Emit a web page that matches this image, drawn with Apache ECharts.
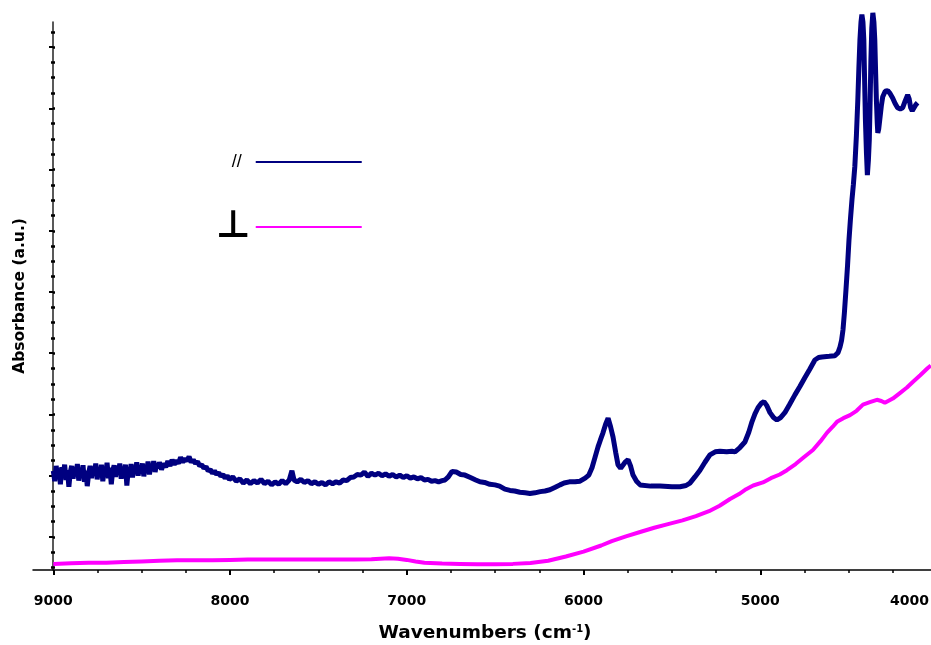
<!DOCTYPE html>
<html>
<head>
<meta charset="utf-8">
<script src="https://cdn.jsdelivr.net/npm/echarts@6/dist/echarts.min.js"></script>
<style>
  html, body { margin: 0; padding: 0; background: #fff; }
  #chart { width: 931px; height: 645px; }
</style>
</head>
<body>
<div id="chart"></div>
<script>
// [wavenumber (cm-1), absorbance (a.u.)]
var parallelData = [
  [9000,1.62],[8992,1.45],[8984,1.70],[8976,1.50],[8968,1.66],[8960,1.40],[8952,1.68],[8944,1.55],
  [8936,1.72],[8928,1.47],[8920,1.63],[8912,1.36],[8904,1.60],[8896,1.70],[8888,1.49],[8880,1.68],
  [8872,1.54],[8864,1.73],[8856,1.46],[8848,1.65],[8840,1.52],[8832,1.71],[8824,1.44],[8816,1.62],
  [8808,1.37],[8800,1.58],[8792,1.70],[8784,1.50],[8776,1.69],[8768,1.55],[8760,1.74],[8752,1.48],
  [8744,1.66],[8736,1.53],[8728,1.72],[8720,1.45],[8712,1.64],[8704,1.57],[8696,1.75],[8688,1.50],
  [8680,1.67],[8672,1.40],[8664,1.62],[8656,1.71],[8648,1.52],[8640,1.70],[8632,1.56],[8624,1.74],
  [8616,1.49],[8608,1.68],[8600,1.58],[8592,1.72],[8584,1.38],[8576,1.64],[8568,1.55],[8560,1.73],
  [8552,1.51],[8544,1.69],[8536,1.60],[8528,1.76],[8520,1.54],[8512,1.70],[8504,1.58],[8496,1.74],
  [8488,1.53],[8480,1.70],[8472,1.62],[8464,1.77],[8456,1.56],[8448,1.72],[8440,1.63],[8432,1.78],
  [8424,1.60],[8416,1.74],[8408,1.66],[8400,1.76],[8388,1.64],[8376,1.74],[8364,1.68],[8352,1.78],
  [8340,1.70],[8328,1.80],[8316,1.72],[8304,1.79],[8292,1.74],[8280,1.84],[8268,1.76],[8256,1.82],
  [8244,1.78],[8232,1.85],[8220,1.76],[8208,1.80],[8196,1.74],[8184,1.77],[8172,1.70],[8160,1.72],
  [8148,1.66],[8136,1.69],[8124,1.62],[8112,1.64],[8100,1.58],[8088,1.62],[8076,1.56],[8064,1.59],
  [8052,1.53],[8040,1.56],[8028,1.50],[8016,1.54],[8004,1.48],[7985,1.52],[7965,1.45],[7945,1.49],
  [7925,1.42],[7905,1.47],[7885,1.41],[7865,1.46],[7845,1.42],[7825,1.48],[7805,1.41],[7785,1.45],
  [7765,1.39],[7745,1.44],[7725,1.40],[7705,1.46],[7685,1.41],[7665,1.47],[7650,1.62],[7638,1.47],
  [7620,1.44],[7600,1.48],[7580,1.43],[7560,1.46],[7540,1.41],[7520,1.44],[7500,1.40],[7480,1.43],
  [7460,1.39],[7440,1.44],[7420,1.41],[7400,1.44],[7380,1.42],[7360,1.47],[7340,1.46],[7320,1.51],
  [7300,1.52],[7280,1.56],[7260,1.55],[7240,1.60],[7220,1.53],[7200,1.58],[7180,1.55],[7160,1.58],
  [7140,1.54],[7120,1.57],[7100,1.53],[7080,1.56],[7060,1.52],[7040,1.55],[7020,1.51],[7000,1.54],
  [6980,1.50],[6960,1.52],[6940,1.49],[6920,1.51],[6900,1.47],[6880,1.48],[6860,1.45],[6840,1.46],
  [6820,1.44],[6800,1.46],[6784,1.47],[6765,1.52],[6744,1.61],[6720,1.60],[6695,1.56],[6671,1.55],
  [6640,1.51],[6610,1.47],[6586,1.44],[6560,1.43],[6530,1.40],[6501,1.39],[6475,1.37],[6445,1.32],
  [6416,1.30],[6390,1.29],[6360,1.27],[6330,1.26],[6303,1.25],[6275,1.26],[6245,1.28],[6218,1.29],
  [6190,1.31],[6160,1.35],[6133,1.39],[6110,1.42],[6080,1.44],[6048,1.44],[6020,1.45],[5991,1.50],
  [5970,1.55],[5952,1.67],[5935,1.84],[5918,2.01],[5905,2.12],[5890,2.24],[5875,2.38],[5861,2.48],
  [5847,2.34],[5833,2.17],[5818,1.92],[5805,1.72],[5790,1.66],[5782,1.67],[5765,1.76],[5748,1.80],
  [5734,1.70],[5720,1.55],[5700,1.45],[5680,1.39],[5620,1.37],[5567,1.37],[5500,1.36],[5454,1.36],
  [5420,1.38],[5398,1.42],[5370,1.52],[5341,1.63],[5313,1.76],[5285,1.88],[5255,1.93],[5228,1.94],
  [5190,1.93],[5160,1.94],[5143,1.93],[5115,2.00],[5087,2.09],[5065,2.25],[5047,2.42],[5030,2.55],
  [5013,2.65],[4995,2.72],[4979,2.75],[4962,2.68],[4945,2.57],[4925,2.49],[4906,2.45],[4885,2.49],
  [4861,2.57],[4835,2.70],[4804,2.86],[4775,3.00],[4748,3.14],[4720,3.28],[4691,3.43],[4670,3.47],
  [4651,3.48],[4610,3.49],[4578,3.50],[4560,3.55],[4549,3.64],[4540,3.75],[4532,3.92],[4524,4.20],
  [4515,4.58],[4506,4.98],[4498,5.39],[4490,5.72],[4481,6.05],[4473,6.30],[4465,6.59],[4456,7.10],
  [4448,7.68],[4442,8.20],[4436,8.66],[4430,8.95],[4425,9.07],[4419,8.95],[4414,8.66],[4410,8.05],
  [4405,7.35],[4399,6.80],[4394,6.45],[4388,6.70],[4383,7.03],[4378,7.70],[4374,8.33],[4369,8.85],
  [4363,9.10],[4357,8.95],[4352,8.66],[4347,8.10],[4343,7.68],[4338,7.30],[4335,7.14],[4330,7.20],
  [4324,7.35],[4315,7.58],[4307,7.73],[4293,7.82],[4279,7.83],[4265,7.78],[4251,7.71],[4237,7.62],
  [4223,7.55],[4208,7.53],[4194,7.55],[4180,7.66],[4166,7.76],[4158,7.70],[4149,7.55],[4140,7.50],
  [4132,7.52],[4120,7.60],[4110,7.63]
];

var perpData = [
  [9000,0.10],[8900,0.11],[8800,0.12],[8700,0.12],[8600,0.13],[8500,0.14],[8400,0.15],[8300,0.16],
  [8200,0.16],[8100,0.16],[8000,0.165],[7900,0.17],[7800,0.17],[7700,0.17],[7600,0.17],[7500,0.17],
  [7400,0.17],[7300,0.17],[7200,0.175],[7150,0.185],[7100,0.19],[7050,0.185],[7000,0.165],[6950,0.14],
  [6900,0.12],[6800,0.105],[6700,0.10],[6600,0.095],[6500,0.095],[6400,0.10],[6300,0.115],[6200,0.15],
  [6100,0.22],[6000,0.30],[5900,0.40],[5840,0.47],[5760,0.55],[5680,0.62],[5600,0.69],[5522,0.75],
  [5440,0.81],[5364,0.88],[5290,0.96],[5230,1.05],[5171,1.16],[5120,1.24],[5080,1.32],[5040,1.38],
  [4985,1.43],[4940,1.50],[4890,1.56],[4849,1.63],[4800,1.73],[4750,1.85],[4702,1.96],[4660,2.10],
  [4623,2.24],[4590,2.34],[4566,2.42],[4530,2.48],[4492,2.53],[4455,2.60],[4419,2.70],[4380,2.74],
  [4340,2.78],[4315,2.76],[4295,2.73],[4250,2.80],[4210,2.89],[4170,2.98],[4137,3.07],[4095,3.18],
  [4052,3.30],[4035,3.34]
];

var xMajorTicks = [9000, 8000, 7000, 6000, 5000, 4000];
var xLabels = [9000, 8000, 7000, 6000, 5000];
var xEndLabel = [4000];
var xMinorTicks = [8750, 8500, 8250, 7750, 7500, 7250, 6750, 6500, 6250, 5750, 5500, 5250, 4750, 4500, 4250];
var yMajorTicks = [0.54, 1.54, 2.54, 3.54, 4.54, 5.54, 6.54, 7.54, 8.54];
var yMinorTicks = [0.04, 0.29, 0.79, 1.04, 1.29, 1.79, 2.04, 2.29, 2.79, 3.04, 3.29, 3.79, 4.04, 4.29,
  4.79, 5.04, 5.29, 5.79, 6.04, 6.29, 6.79, 7.04, 7.29, 7.79, 8.04, 8.29, 8.79];

var font = 'DejaVu Sans, Verdana, sans-serif';
var plain = function (v) { return String(v); };
var labelStyle = { color: '#000', fontSize: 14, fontWeight: 'bold', fontFamily: font, formatter: plain };

var chart = echarts.init(document.getElementById('chart'));
chart.setOption({
  animation: false,
  backgroundColor: '#fff',
  grid: { left: 33, width: 904, top: 22, bottom: 75, outerBoundsMode: 'none', containLabel: false },
  legend: {
    orient: 'vertical',
    left: 211,
    top: 148,
    align: 'right',
    icon: 'rect',
    itemWidth: 106,
    itemHeight: 2,
    itemGap: 37,
    selectedMode: false,
    textStyle: { color: '#000' },
    data: [
      { name: '//', textStyle: { fontSize: 18, fontFamily: 'Liberation Sans, Arial, sans-serif', padding: [0, 9, 0, 0] } },
      { name: '\u22A5', textStyle: { fontSize: 38, fontWeight: 'bold', fontFamily: 'DejaVu Sans', padding: [16, 0, 0, 0] } }
    ]
  },
  xAxis: [
    {
      type: 'value', position: 'bottom', inverse: true, min: 4000, max: 9115,
      axisLine: { show: true, lineStyle: { color: '#000', width: 1.5 } },
      axisTick: { show: true, customValues: xMajorTicks, length: 5, lineStyle: { color: '#000', width: 2 } },
      axisLabel: Object.assign({ customValues: xLabels, margin: 24 }, labelStyle),
      splitLine: { show: false },
      name: 'Wavenumbers (cm{sup|-1})',
      nameLocation: 'middle',
      nameGap: 54,
      nameTextStyle: {
        color: '#000', fontSize: 18.5, fontWeight: 'bold', fontFamily: font,
        rich: { sup: { fontSize: 10, fontWeight: 'bold', fontFamily: font, color: '#000', verticalAlign: 'top', padding: [0, 0, 8, 0] } }
      }
    },
    {
      type: 'value', position: 'bottom', inverse: true, min: 4000, max: 9115,
      axisLine: { show: false },
      axisTick: { show: true, customValues: xMinorTicks, length: 3, lineStyle: { color: '#000', width: 1.5 } },
      axisLabel: Object.assign({ customValues: xEndLabel, margin: 24, align: 'right', padding: [0, 8, 0, 0] }, labelStyle),
      splitLine: { show: false }
    }
  ],
  yAxis: [
    {
      type: 'value', position: 'left', offset: -20, min: 0, max: 8.95,
      axisLine: { show: true, lineStyle: { color: '#222', width: 1.5 } },
      axisTick: { show: true, customValues: yMajorTicks, length: 4, lineStyle: { color: '#000', width: 2 } },
      axisLabel: { show: false },
      splitLine: { show: false },
      name: 'Absorbance (a.u.)',
      nameLocation: 'middle',
      nameGap: 25,
      nameTextStyle: { color: '#000', fontSize: 15.5, fontWeight: 'bold', fontFamily: font }
    },
    {
      type: 'value', position: 'left', offset: -20, min: 0, max: 8.95,
      axisLine: { show: false },
      axisTick: { show: true, customValues: yMinorTicks, length: 2, lineStyle: { color: '#000', width: 2.5 } },
      axisLabel: { show: false },
      splitLine: { show: false }
    },
    {
      type: 'value', position: 'left', offset: -20, min: 0, max: 8.95,
      axisLine: { show: false },
      axisTick: { show: true, inside: true, customValues: yMinorTicks.concat(yMajorTicks), length: 2, lineStyle: { color: '#000', width: 2.5 } },
      axisLabel: { show: false },
      splitLine: { show: false }
    }
  ],
  series: [
    {
      name: '\u22A5', type: 'line', data: perpData, showSymbol: false, symbol: 'none',
      lineStyle: { color: '#ff00ff', width: 4 }, itemStyle: { color: '#ff00ff' },
      silent: true
    },
    {
      name: '//', type: 'line', data: parallelData, showSymbol: false, symbol: 'none', clip: false,
      lineStyle: { color: '#000080', width: 5 }, itemStyle: { color: '#000080' },
      silent: true
    }
  ]
});
</script>
</body>
</html>
